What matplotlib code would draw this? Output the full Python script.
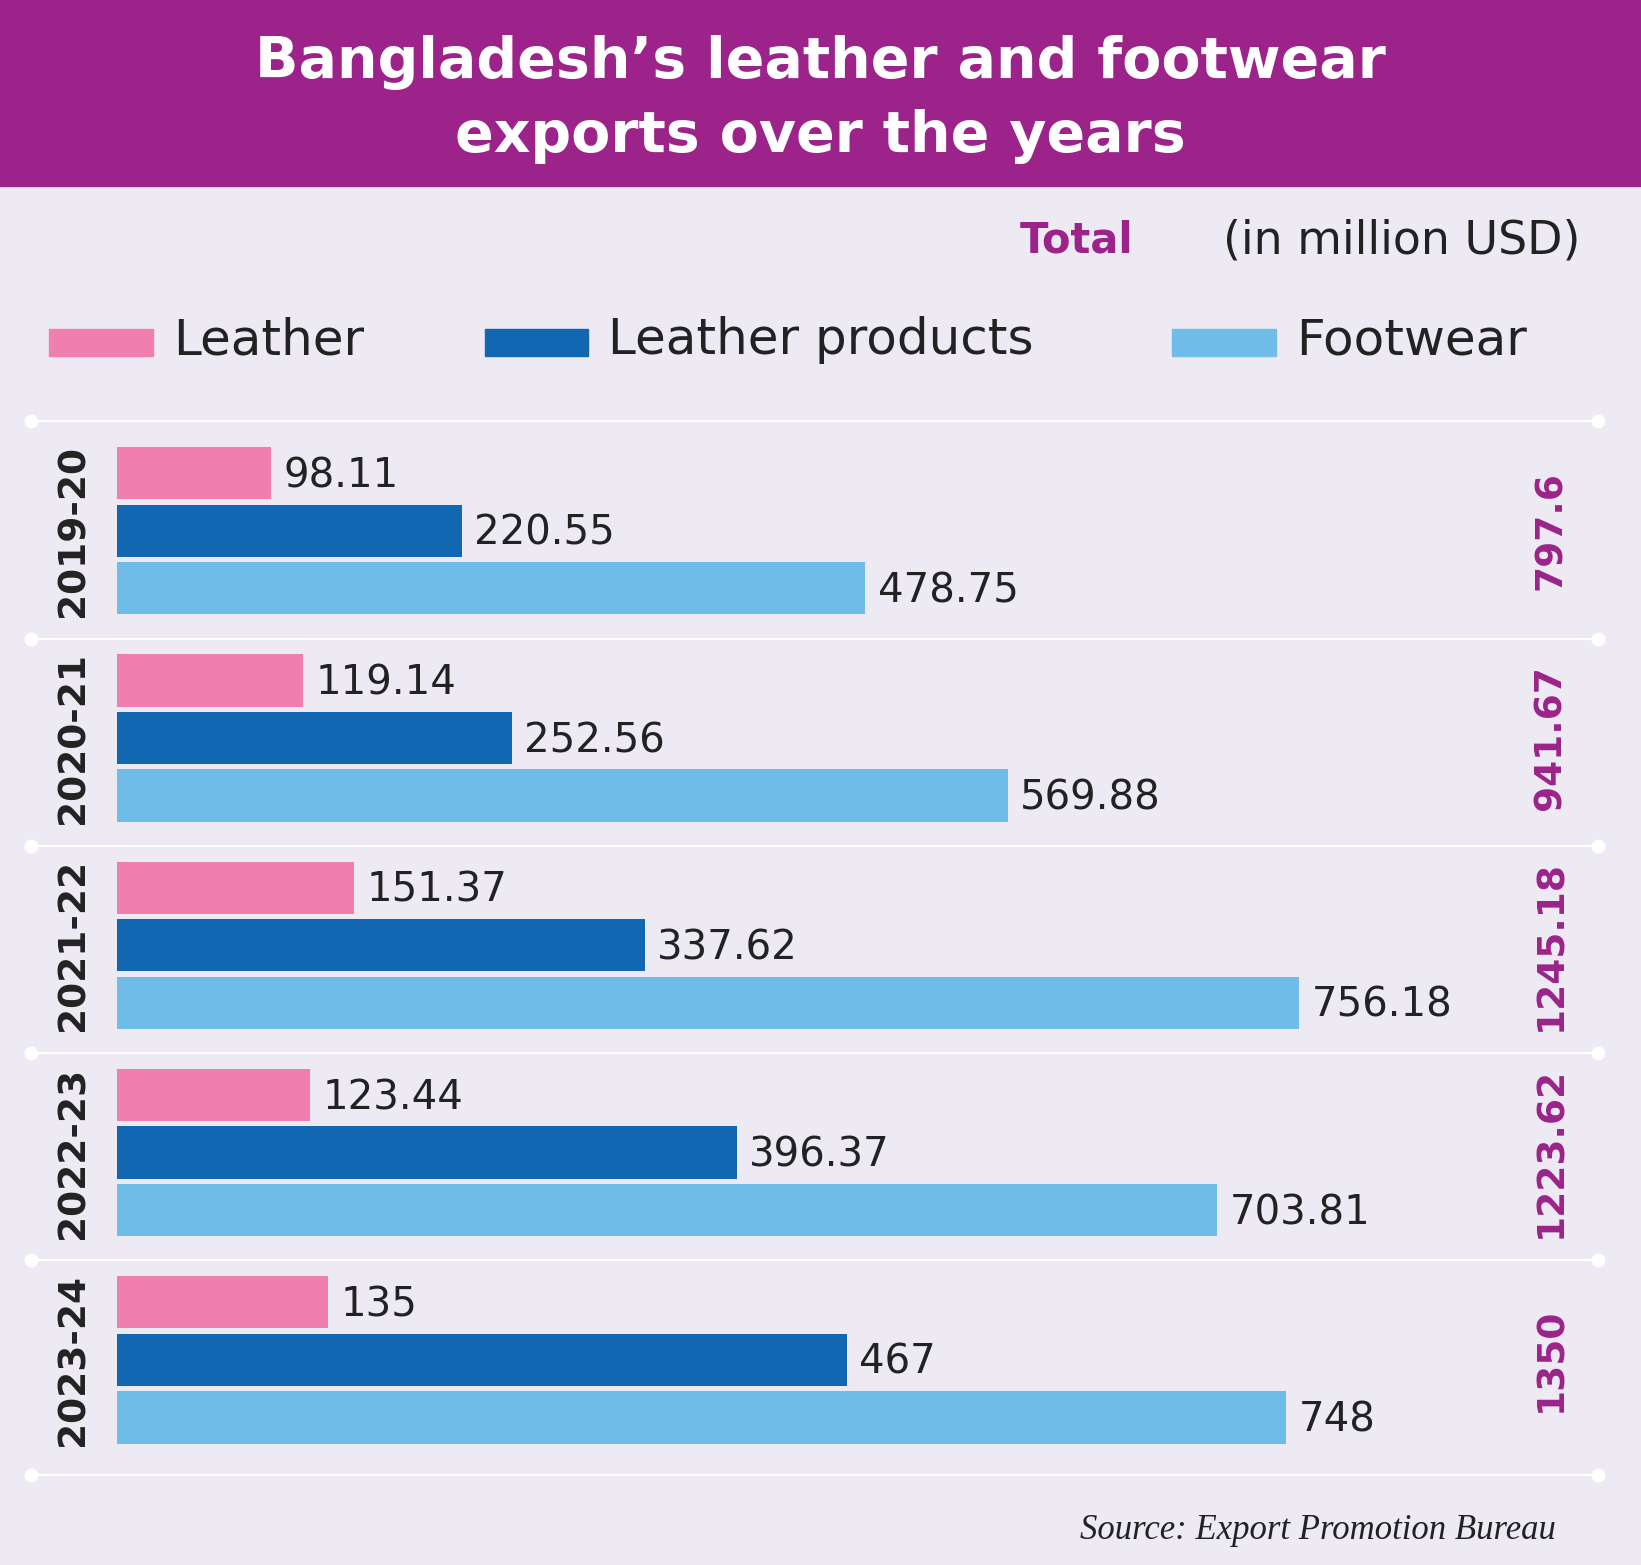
import matplotlib
matplotlib.use("Agg")
import matplotlib.pyplot as plt
from matplotlib.patches import Rectangle
from matplotlib.lines import Line2D
import matplotlib.transforms as mtrans

years = ["2019-20", "2020-21", "2021-22", "2022-23", "2023-24"]
leather = [98.11, 119.14, 151.37, 123.44, 135]
leather_products = [220.55, 252.56, 337.62, 396.37, 467]
footwear = [478.75, 569.88, 756.18, 703.81, 748]
totals = ["797.6", "941.67", "1245.18", "1223.62", "1350"]
series_names = ["Leather", "Leather products", "Footwear"]
colors = ["#F07FB0", "#1167B1", "#6FBDE8"]
purple = "#9B2389"
bg = "#EDEAF3"
txt = "#222222"

W, H = 1568.0, 1495.0
fx = lambda x: x / W
fy = lambda y: 1 - y / H

fig = plt.figure(figsize=(16.41, 15.65), dpi=100, facecolor=bg)
fig.patches.append(Rectangle((0, fy(178)), 1, 1 - fy(178), transform=fig.transFigure, color=purple))
fig.text(0.5, fy(60), "Bangladesh’s leather and footwear", ha="center", va="center",
         color="white", fontsize=41, fontweight="bold")
fig.text(0.5, fy(130), "exports over the years", ha="center", va="center",
         color="white", fontsize=41, fontweight="bold")
fig.text(fx(1083), fy(230), "Total", ha="right", va="center", color=purple, fontsize=30, fontweight="bold")
fig.text(fx(1510), fy(230), "(in million USD)", ha="right", va="center", color=txt, fontsize=33)

leg_x = [47, 463, 1120]
for x, name, c in zip(leg_x, series_names, colors):
    fig.patches.append(Rectangle((fx(x), fy(340)), fx(99), fy(314) - fy(340), transform=fig.transFigure, color=c))
    fig.text(fx(x + 118), fy(325), name, ha="left", va="center", color=txt, fontsize=36)

ax_l, ax_r, top, bot = 112, 1490, 402, 1409
ax = fig.add_axes([fx(ax_l), fy(bot), fx(ax_r - ax_l), fy(top) - fy(bot)])
ax.set_facecolor("none")
scale = 1.493
ax.set_xlim(0, (ax_r - ax_l) / scale)
ax.set_ylim(bot - top, 0)
ax.axis("off")

step, first, bh, off = 198, 105, 50, 55
for i, y in enumerate(years):
    c = first + step * i
    for j, vals in enumerate([leather, leather_products, footwear]):
        yy = c + (j - 1) * off
        ax.barh(yy, vals[i], height=bh, color=colors[j])
        ax.text(vals[i] + 8, yy + 3, f"{vals[i]:g}" if vals[i] != int(vals[i]) else str(int(vals[i])),
                ha="left", va="center", color=txt, fontsize=29)
    lbl_tr = mtrans.blended_transform_factory(fig.transFigure, ax.transData)
    ax.text(fx(70), c, y, transform=lbl_tr, rotation=90, ha="center", va="center",
            fontsize=27, fontweight="bold", color=txt)
    ax.text(fx(1482), c, totals[i], transform=lbl_tr, rotation=90, ha="center", va="center",
            fontsize=27, fontweight="bold", color=purple)

tr = mtrans.blended_transform_factory(fig.transFigure, ax.transData)
seps = [0] + [first + step * i + step / 2 + 4 for i in range(4)] + [bot - top]
for s in seps:
    ax.add_line(Line2D([fx(30), fx(1527)], [s, s], transform=tr, color="white", lw=1.5, clip_on=False))
    ax.plot([fx(30), fx(1527)], [s, s], "o", transform=tr, color="white", ms=9, clip_on=False)

fig.text(fx(1487), fy(1462), "Source: Export Promotion Bureau", ha="right", va="center",
         fontsize=25, style="italic", family="Liberation Serif", color=txt)

fig.savefig("out.png", dpi=100, facecolor=bg)
